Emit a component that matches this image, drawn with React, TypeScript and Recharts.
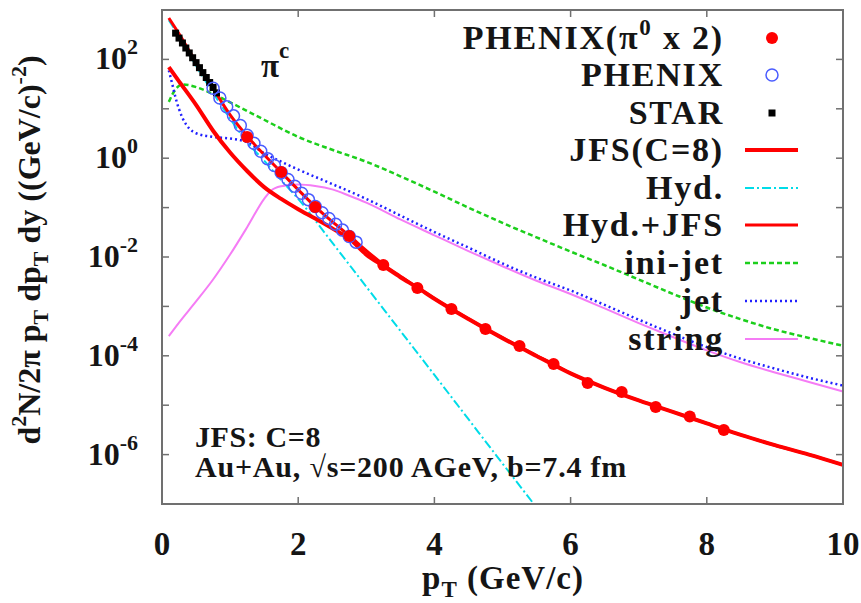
import React from 'react'
import { ComposedChart, Line, Scatter, XAxis, YAxis } from 'recharts'

const FONT = "'Liberation Serif', 'DejaVu Serif', 'Times New Roman', serif"

// PHENIX pi0 (x 2), filled red dots
const pi0Pt = [1.25, 1.75, 2.25, 2.75, 3.25, 3.75, 4.25, 4.75, 5.25, 5.75, 6.25, 6.75, 7.25, 7.75, 8.25]
const pi0Yield = [2.69, 0.526, 0.103, 0.0266, 0.0069, 0.00236, 8.85e-4, 3.49e-4, 1.58e-4, 6.8e-5, 2.8e-5, 1.85e-5, 9.2e-6, 5.9e-6, 3.15e-6]

// PHENIX charged pions, open circles
const phenixPt = [0.75, 0.85, 0.95, 1.05, 1.15, 1.25, 1.35, 1.45, 1.55, 1.65, 1.75, 1.85, 1.95, 2.05, 2.15, 2.25, 2.35, 2.45, 2.55, 2.65, 2.75, 2.85]
const phenixYield = [26, 16.6, 11, 7.2, 4.6, 2.9, 2.0, 1.38, 0.98, 0.71, 0.51, 0.37, 0.27, 0.195, 0.145, 0.105, 0.079, 0.06, 0.046, 0.035, 0.026, 0.02]

// STAR, small black squares
const starPt = [0.2, 0.25, 0.3, 0.35, 0.4, 0.45, 0.5, 0.55, 0.6, 0.65, 0.7, 0.75, 0.8]
const starYield = [340, 270, 215, 170, 135, 108, 86, 68, 54, 43, 34, 27, 21]

// Hyd.+JFS
const hjPt = [0.1, 0.25, 0.5, 0.75, 1, 1.25, 1.5, 1.75, 2, 2.25, 2.5, 2.75, 3, 3.25, 3.5, 3.75, 4, 4.25, 4.5, 4.75, 5, 5.25, 5.5, 5.75, 6, 6.5, 7, 7.5, 8, 8.5, 9, 9.5, 10]
const hjYield = [690, 330, 88, 26, 7.5, 2.8, 1.17, 0.52, 0.23, 0.105, 0.052, 0.027, 0.0135, 0.0071, 0.0041, 0.0024, 0.00145, 8.9e-4, 5.6e-4, 3.5e-4, 2.3e-4, 1.55e-4, 1.0e-4, 6.8e-5, 4.4e-5, 2.25e-5, 1.25e-5, 7.3e-6, 4.3e-6, 2.5e-6, 1.55e-6, 1.0e-6, 6.2e-7]

// JFS(C=8)
const jfsPt = [0.1, 0.25, 0.5, 0.75, 1, 1.25, 1.5, 1.75, 2, 2.25, 2.5, 2.75, 3, 3.25, 3.5, 3.75, 4, 4.5, 5, 5.5, 6, 6.5, 7, 7.5, 8, 8.5, 9, 9.5, 10]
const jfsYield = [70, 36, 12, 3.6, 1.3, 0.55, 0.26, 0.15, 0.093, 0.06, 0.038, 0.0234, 0.0112, 0.0066, 0.0039, 0.0024, 0.00143, 5.55e-4, 2.28e-4, 9.9e-5, 4.4e-5, 2.25e-5, 1.25e-5, 7.3e-6, 4.3e-6, 2.5e-6, 1.55e-6, 1.0e-6, 6.2e-7]

// Hyd.
const hydPt = [0.1, 0.25, 0.5, 0.75, 1, 1.25, 1.5, 1.75, 2, 2.5, 3, 3.5, 4, 4.5, 5, 5.46]
const hydYield = [620, 295, 74, 21, 6.3, 2.1, 0.89, 0.36, 0.15, 0.0195, 0.0025, 3.2e-4, 4.1e-5, 5.2e-6, 6.6e-7, 1e-7]

// ini-jet
const iniPt = [0.1, 0.2, 0.3, 0.4, 0.5, 0.75, 1, 1.5, 2, 2.5, 3, 3.5, 4, 4.5, 5, 5.5, 6, 6.5, 7, 7.5, 8, 8.5, 9, 9.5, 10]
const iniYield = [13.8, 25, 31, 30, 27.5, 20, 13.5, 6.0, 2.7, 1.48, 0.85, 0.43, 0.21, 0.1, 0.049, 0.025, 0.0129, 0.0068, 0.0035, 0.0018, 9.5e-4, 5.5e-4, 3.4e-4, 2.3e-4, 1.6e-4]

// jet
const jetPt = [0.1, 0.15, 0.2, 0.3, 0.4, 0.5, 0.75, 1, 1.25, 1.5, 1.75, 2, 2.5, 3, 3.5, 4, 4.5, 5, 5.5, 6, 6.5, 7, 7.5, 8, 8.5, 9, 9.5, 10]
const jetYield = [60, 32, 16.6, 6.6, 4.0, 3.2, 2.7, 2.5, 2.1, 1.26, 0.85, 0.59, 0.3, 0.15, 0.069, 0.032, 0.0155, 0.0074, 0.0038, 0.0021, 0.00107, 5.4e-4, 2.8e-4, 1.5e-4, 8.7e-5, 5.5e-5, 3.6e-5, 2.5e-5]

// string
const strPt = [0.1, 0.25, 0.5, 0.75, 1, 1.25, 1.5, 1.6, 1.75, 2, 2.25, 2.5, 2.75, 3, 3.5, 4, 4.5, 5, 5.5, 6, 6.5, 7, 7.5, 8, 8.5, 9, 9.5, 10]
const strYield = [2.5e-4, 4.7e-4, 1.26e-3, 3.5e-3, 0.0112, 0.04, 0.15, 0.22, 0.27, 0.295, 0.275, 0.234, 0.174, 0.126, 0.0575, 0.0275, 0.0132, 0.0065, 0.0033, 0.00178, 9.1e-4, 4.6e-4, 2.4e-4, 1.29e-4, 7.4e-5, 4.6e-5, 2.95e-5, 1.9e-5]

const xTicks = [0, 2, 4, 6, 8, 10]
const xInnerTicks = [2, 4, 6, 8]
const yTicks = [1e-6, 1e-5, 1e-4, 1e-3, 1e-2, 1e-1, 1, 10, 100]

const X_MIN = 0
const X_MAX = 10
const Y_MIN = 1e-7
const Y_MAX = 1e3

// plot box inside the 861x603 chart
const W = 861
const H = 603
const LEFT = 162
const TOP = 10
const RIGHT = 843
const BOTTOM = 504
const TICK = 7

const pts = (xs: number[], ys: number[]) => xs.map((x, i) => ({ x, y: ys[i] }))

// same mapping the chart uses, only for the frame ticks
const fx = (x: number) => LEFT + ((x - X_MIN) / (X_MAX - X_MIN)) * (RIGHT - LEFT)
const fy = (v: number) =>
  BOTTOM - ((Math.log10(v) - Math.log10(Y_MIN)) / (Math.log10(Y_MAX) - Math.log10(Y_MIN))) * (BOTTOM - TOP)

const RED = '#ff0000'
const CYAN = '#00dce8'
const GREEN = '#1ccf1c'
const BLUE = '#2020ff'
const PINK = '#f57cf5'
const CIRC = '#4a5cff'
const AXIS = '#707070'
const INK = '#151515'

const XTick = (p: any) => (
  <text x={p.x} y={555} textAnchor="middle" style={{ fontFamily: FONT }} fontWeight="bold" fontSize={33} fill={INK}>
    {p.payload.value}
  </text>
)

const YTick = (p: any) => {
  const e = Math.round(Math.log10(p.payload.value))
  if (e % 2 !== 0) return null
  return (
    <text x={138} y={p.y + 10} textAnchor="end" style={{ fontFamily: FONT }} fontWeight="bold" fontSize={32} fill={INK}>
      10<tspan dy={-15} fontSize={22}>{e}</tspan>
    </text>
  )
}

const legendRows = [38, 75, 113, 150, 188, 225, 263, 301, 339]

export default function App() {
  return (
    <div style={{ position: 'absolute', left: 0, top: 0, width: W, height: H, background: '#fff' }}>
      <ComposedChart width={W} height={H} margin={{ top: TOP, right: W - RIGHT, left: 0, bottom: 0 }}>
        <XAxis dataKey="x" type="number" domain={[X_MIN, X_MAX]} ticks={xTicks} height={H - BOTTOM}
          axisLine={false} tickLine={false} tick={<XTick />} />
        <YAxis dataKey="y" type="number" scale="log" domain={[Y_MIN, Y_MAX]} ticks={yTicks} width={LEFT}
          axisLine={false} tickLine={false} tick={<YTick />} />

        <Line data={pts(strPt, strYield)} dataKey="y" type="monotone" stroke={PINK} strokeWidth={2} dot={false} isAnimationActive={false} />
        <Line data={pts(iniPt, iniYield)} dataKey="y" type="monotone" stroke={GREEN} strokeWidth={2.5} strokeDasharray="5 3" dot={false} isAnimationActive={false} />
        <Line data={pts(jetPt, jetYield)} dataKey="y" type="monotone" stroke={BLUE} strokeWidth={2.5} strokeDasharray="2 3" dot={false} isAnimationActive={false} />
        <Line data={pts(hydPt, hydYield)} dataKey="y" type="monotone" stroke={CYAN} strokeWidth={2} strokeDasharray="9 3 2 3" dot={false} isAnimationActive={false} />
        <Line data={pts(jfsPt, jfsYield)} dataKey="y" type="monotone" stroke={RED} strokeWidth={4} dot={false} isAnimationActive={false} />
        <Line data={pts(hjPt, hjYield)} dataKey="y" type="monotone" stroke={RED} strokeWidth={3} dot={false} isAnimationActive={false} />

        <Scatter data={pts(starPt, starYield)} dataKey="y" isAnimationActive={false}
          shape={(p: any) => <rect x={p.cx - 3.5} y={p.cy - 3.5} width={7} height={7} fill="#000" />} />
        <Scatter data={pts(phenixPt, phenixYield)} dataKey="y" isAnimationActive={false}
          shape={(p: any) => <circle cx={p.cx} cy={p.cy} r={6} fill="none" stroke={CIRC} strokeWidth={1.5} />} />
        <Scatter data={pts(pi0Pt, pi0Yield)} dataKey="y" isAnimationActive={false}
          shape={(p: any) => <circle cx={p.cx} cy={p.cy} r={6} fill={RED} />} />
      </ComposedChart>

      <svg width={W} height={H} style={{ position: 'absolute', left: 0, top: 0, pointerEvents: 'none', fontFamily: FONT }}
        fontWeight="bold" fill={INK}>
        {/* frame with inward ticks on all four sides */}
        <g stroke={AXIS} strokeWidth={1.5}>
          {yTicks.map((v) => (
            <g key={'y' + v}>
              <line x1={LEFT} x2={LEFT + TICK} y1={fy(v)} y2={fy(v)} />
              <line x1={RIGHT - TICK} x2={RIGHT} y1={fy(v)} y2={fy(v)} />
            </g>
          ))}
          {xInnerTicks.map((v) => (
            <g key={'x' + v}>
              <line x1={fx(v)} x2={fx(v)} y1={BOTTOM} y2={BOTTOM - TICK} />
              <line x1={fx(v)} x2={fx(v)} y1={TOP} y2={TOP + TICK} />
            </g>
          ))}
        </g>
        <rect x={LEFT} y={TOP} width={RIGHT - LEFT} height={BOTTOM - TOP} fill="none" stroke={AXIS} strokeWidth={2} />

        {/* legend */}
        <g fontSize={34} textAnchor="end" letterSpacing={1.8}>
          <text x={724} y={legendRows[0] + 11}>PHENIX(π<tspan dy={-14} fontSize={23}>0</tspan><tspan dy={14}> x 2)</tspan></text>
          <text x={724} y={legendRows[1] + 11}>PHENIX</text>
          <text x={724} y={legendRows[2] + 11}>STAR</text>
          <text x={724} y={legendRows[3] + 11}>JFS(C=8)</text>
          <text x={724} y={legendRows[4] + 11}>Hyd.</text>
          <text x={724} y={legendRows[5] + 11}>Hyd.+JFS</text>
          <text x={724} y={legendRows[6] + 11}>ini-jet</text>
          <text x={724} y={legendRows[7] + 11}>jet</text>
          <text x={724} y={legendRows[8] + 11}>string</text>
        </g>
        <circle cx={772} cy={legendRows[0]} r={6} fill={RED} />
        <circle cx={772} cy={legendRows[1]} r={6} fill="none" stroke={CIRC} strokeWidth={1.5} />
        <rect x={768.5} y={legendRows[2] - 3.5} width={7} height={7} fill="#000" />
        <line x1={745} x2={798} y1={legendRows[3]} y2={legendRows[3]} stroke={RED} strokeWidth={4} />
        <line x1={745} x2={798} y1={legendRows[4]} y2={legendRows[4]} stroke={CYAN} strokeWidth={2} strokeDasharray="9 3 2 3" />
        <line x1={745} x2={798} y1={legendRows[5]} y2={legendRows[5]} stroke={RED} strokeWidth={3} />
        <line x1={745} x2={798} y1={legendRows[6]} y2={legendRows[6]} stroke={GREEN} strokeWidth={2.5} strokeDasharray="5 3" />
        <line x1={745} x2={798} y1={legendRows[7]} y2={legendRows[7]} stroke={BLUE} strokeWidth={2.5} strokeDasharray="2 3" />
        <line x1={745} x2={798} y1={legendRows[8]} y2={legendRows[8]} stroke={PINK} strokeWidth={2} />

        {/* annotations */}
        <text x={261} y={77} fontSize={33}>π<tspan dy={-19} fontSize={23}>c</tspan></text>
        <text x={195} y={447} fontSize={30} letterSpacing={0.6}>JFS: C=8</text>
        <text x={195} y={477} fontSize={30} letterSpacing={0.8}>Au+Au, √s=200 AGeV, b=7.4 fm</text>

        {/* axis titles */}
        <text x={503} y={589} fontSize={33} textAnchor="middle" letterSpacing={1}>
          p<tspan dy={8} fontSize={23}>T</tspan><tspan dy={-8}> (GeV/c)</tspan>
        </text>
        <text transform="translate(40,250) rotate(-90)" fontSize={32} textAnchor="middle">
          d<tspan dy={-14} fontSize={22}>2</tspan><tspan dy={14}>N/2π p</tspan><tspan dy={8} fontSize={22}>T</tspan>
          <tspan dy={-8}> dp</tspan><tspan dy={8} fontSize={22}>T</tspan><tspan dy={-8}> dy ((GeV/c)</tspan>
          <tspan dy={-14} fontSize={22}>-2</tspan><tspan dy={14}>)</tspan>
        </text>
      </svg>
    </div>
  )
}
